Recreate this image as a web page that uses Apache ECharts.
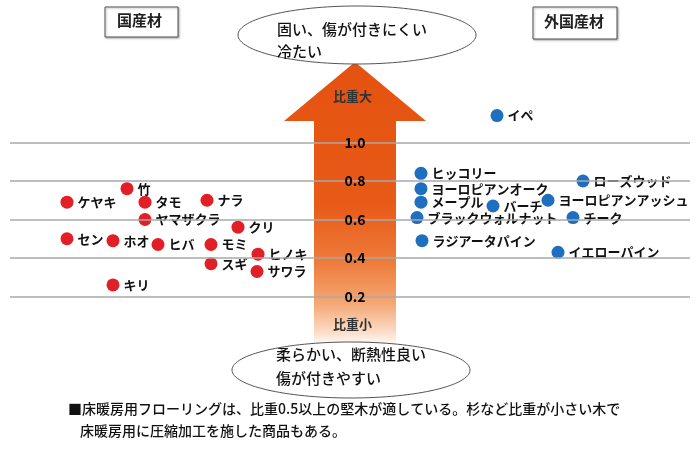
<!DOCTYPE html>
<html>
<head>
<meta charset="utf-8">
<script src="https://cdn.jsdelivr.net/npm/echarts@6/dist/echarts.min.js"></script>
<style>
html,body{margin:0;padding:0;background:#fff;}
#main{width:700px;height:453px;}
</style>
</head>
<body>
<div id="main"></div>
<script>
// 国産材 (domestic wood): name, horizontal slot, specific gravity
var domesticNames=['竹','ケヤキ','タモ','ナラ','ヤマザクラ','クリ','セン','ホオ','ヒバ','モミ','ヒノキ','スギ','サワラ','キリ'];
var domesticX=[117,57,135,197,135,228,57,103,148,201,248,201,247,103];
var domesticSG=[0.76,0.69,0.69,0.70,0.60,0.56,0.50,0.49,0.47,0.47,0.42,0.37,0.33,0.26];
// 外国産材 (imported wood)
var foreignNames=['イペ','ヒッコリー','ヨーロピアンオーク','メープル','バーチ','ブラックウォルナット','ラジアータパイン','ローズウッド','ヨーロピアンアッシュ','チーク','イエローパイン'];
var foreignX=[487,411,411,411,483,407,412,573,538,563,548];
var foreignSG=[1.14,0.84,0.76,0.69,0.67,0.61,0.49,0.80,0.70,0.61,0.43];
// axis
var sgMin=0, sgMax=1.2, sgStep=0.2;
var tickLabels=['','0.2','0.4','0.6','0.8','1.0',''];

var font='"Noto Sans CJK JP", "Noto Sans", sans-serif';

function pts(xs,ys,names){
  var out=[];
  for(var i=0;i<xs.length;i++){
    out.push({value:[xs[i],ys[i]],name:names[i]});
  }
  return out;
}

var chart=echarts.init(document.getElementById('main'));

var lineopt={
  backgroundColor:'#fff',
  animation:false,
  textStyle:{fontFamily:font},
  grid:{left:10,right:10,top:104,bottom:118,containLabel:false},
  xAxis:{
    type:'value',min:0,max:680,
    show:false
  },
  yAxis:{
    type:'value',min:sgMin,max:sgMax,interval:sgStep,
    position:'left',offset:-345,z:5,
    axisLine:{show:false},
    axisTick:{show:false},
    axisLabel:{
      margin:0,align:'center',
      color:'#000',fontSize:14,fontFamily:font,fontWeight:'bold',
      formatter:function(v){
        var idx=Math.round((v-sgMin)/sgStep);
        return tickLabels[idx]||'';
      }
    },
    splitLine:{
      show:true,
      lineStyle:{
        width:1.5,
        color:['rgba(0,0,0,0)','#a8a8a8','#a8a8a8','#a8a8a8','#a8a8a8','#a8a8a8','rgba(0,0,0,0)']
      }
    }
  },
  graphic:[
    // arrow
    {
      type:'polygon',z:-1,
      shape:{points:[[355,62],[426,121],[396,121],[396,346],[314,346],[314,121],[284,121]]},
      style:{
        fill:new echarts.graphic.LinearGradient(0,0,0,1,[
          {offset:0,color:'#E4520F'},
          {offset:0.5,color:'#E85A18'},
          {offset:0.7,color:'#ED7A3A'},
          {offset:0.85,color:'#F4A774'},
          {offset:0.95,color:'#FBDCC6'},
          {offset:1,color:'#FFFFFF'}
        ])
      }
    },
    {type:'text',left:333,top:90,style:{text:'比重大',font:'bold 13px '+font,fill:'#333'}},
    {type:'text',left:333,top:318,style:{text:'比重小',font:'bold 13px '+font,fill:'#333'}},
    // top ellipse
    {
      type:'ellipse',
      shape:{cx:357,cy:35,rx:119,ry:29},
      style:{fill:'#fff',stroke:'#555',lineWidth:1}
    },
    {type:'text',left:277,top:22,style:{text:'固い、傷が付きにくい',font:'500 15px '+font,fill:'#111'}},
    {type:'text',left:277,top:44,style:{text:'冷たい',font:'500 15px '+font,fill:'#111'}},
    // bottom ellipse
    {
      type:'ellipse',
      shape:{cx:351,cy:370,rx:119,ry:28},
      style:{fill:'#fff',stroke:'#555',lineWidth:1}
    },
    {type:'text',left:276,top:347,style:{text:'柔らかい、断熱性良い',font:'500 15px '+font,fill:'#111'}},
    {type:'text',left:276,top:371,style:{text:'傷が付きやすい',font:'500 15px '+font,fill:'#111'}},
    // group boxes
    {
      type:'rect',
      shape:{x:105,y:7,width:73,height:30},
      style:{fill:'#fff',stroke:'#555',lineWidth:1,shadowBlur:2,shadowColor:'rgba(0,0,0,0.3)',shadowOffsetX:1,shadowOffsetY:1}
    },
    {type:'text',left:117,top:13,style:{text:'国産材',font:'bold 15px '+font,fill:'#222'}},
    {
      type:'rect',
      shape:{x:533,y:7,width:84,height:32},
      style:{fill:'#fff',stroke:'#555',lineWidth:1,shadowBlur:2,shadowColor:'rgba(0,0,0,0.3)',shadowOffsetX:1,shadowOffsetY:1}
    },
    {type:'text',left:544,top:14,style:{text:'外国産材',font:'bold 15px '+font,fill:'#222'}},
    // note
    {type:'text',left:68,top:402,style:{text:'■床暖房用フローリングは、比重0.5以上の堅木が適している。杉など比重が小さい木で',font:'500 14px '+font,fill:'#111'}},
    {type:'text',left:80,top:424,style:{text:'床暖房用に圧縮加工を施した商品もある。',font:'500 14px '+font,fill:'#111'}}
  ],
  series:[
    {
      name:'国産材',type:'scatter',symbolSize:13,
      itemStyle:{color:'#E21F26',opacity:1},
      label:{show:true,position:'right',distance:4,formatter:'{b}',color:'#111',fontSize:13,fontWeight:'bold',fontFamily:font},
      data:pts(domesticX,domesticSG,domesticNames)
    },
    {
      name:'外国産材',type:'scatter',symbolSize:13,
      itemStyle:{color:'#1F6FC1',opacity:1},
      label:{show:true,position:'right',distance:4,formatter:'{b}',color:'#111',fontSize:13,fontWeight:'bold',fontFamily:font},
      data:pts(foreignX,foreignSG,foreignNames)
    }
  ]
};
chart.setOption(lineopt);
</script>
</body>
</html>
